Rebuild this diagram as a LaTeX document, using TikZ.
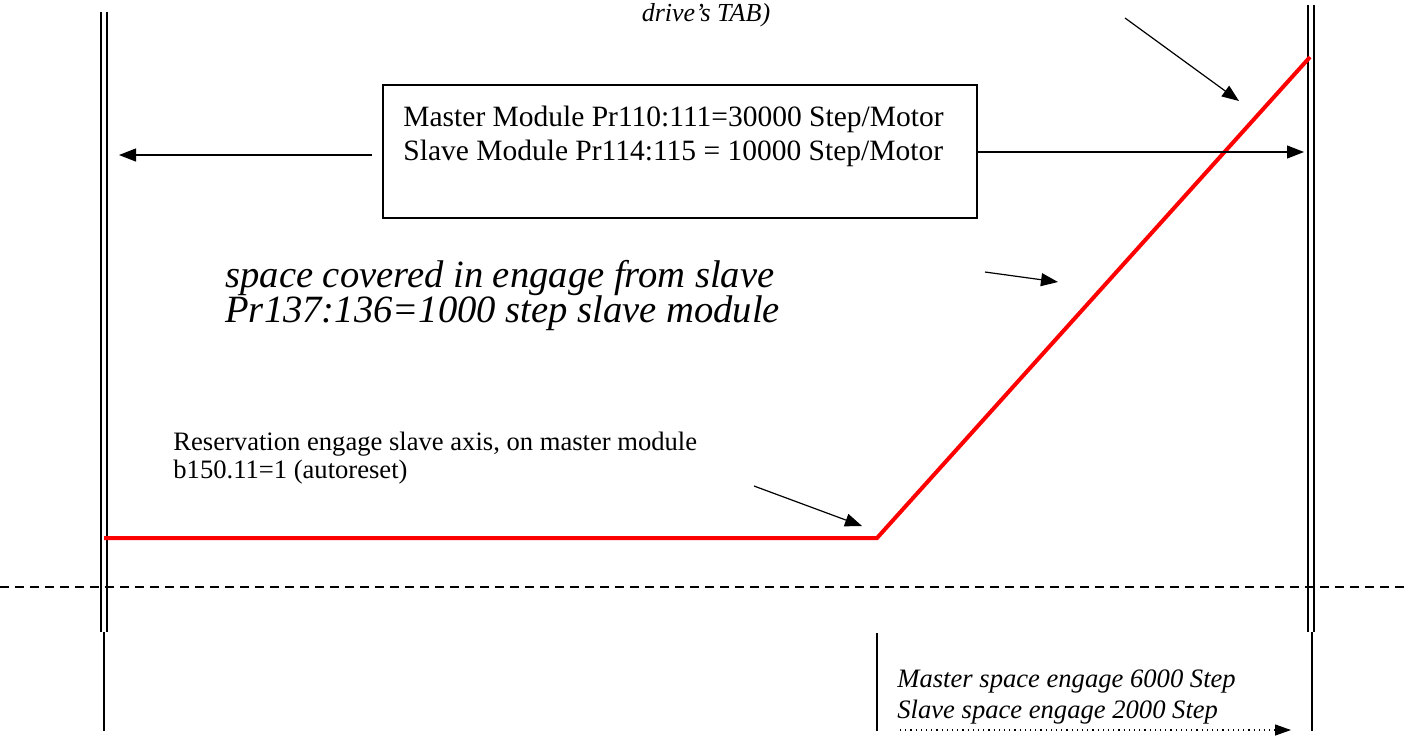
\documentclass[tikz,border=0pt]{standalone}
\usepackage{fontspec}
\setmainfont{Liberation Serif}
\usetikzlibrary{arrows.meta,positioning}

\tikzset{
  axisline/.style={line width=1pt},
  tailline/.style={line width=0.8pt},
  camline/.style={red, line width=2pt},
  pointer/.style={line width=0.6pt, -{Triangle[length=8.5pt,width=6.5pt]}},
  infobox/.style={draw, line width=0.6pt, minimum width=297pt, minimum height=66.5pt},
}

\begin{document}
\begin{tikzpicture}[x=0.5pt,y=-0.5pt]
    \useasboundingbox (0,0) rectangle (1410,736);

    % left axis (double line, then single below)
    \draw[axisline] (101,12) -- (101,632);
    \draw[axisline] (107,12) -- (107,632);
    \draw[tailline] (104,632) -- (104,731);

    % right axis
    \draw[axisline] (1308,5) -- (1308,632);
    \draw[axisline] (1314,5) -- (1314,632);
    \draw[tailline] (1312,632) -- (1312,731);

    % dashed reference line
    \draw[line width=0.6pt, dash pattern=on 4.5pt off 3pt] (0,587) -- (1410,587);

    % engage profile
    \coordinate (redstart) at (104,538);
    \coordinate (knee) at (877,538);
    \coordinate (redend) at (1310,57);
    \draw[camline] (redstart) -- (knee) -- (redend);

    % module box
    \node[infobox] (modbox) at (680,151.5) {};
    \node[anchor=west, align=left, font=\fontsize{14.75pt}{17pt}\selectfont, inner sep=0pt]
        (modtxt) at (403,136) {Master Module Pr110:111=30000 Step/Motor\\Slave Module Pr114:115 = 10000 Step/Motor};
    \coordinate (leftgo) at (372,155);
    \coordinate (lefthit) at (119,155);
    \coordinate (righthit) at (1304,152);
    \draw[pointer] (leftgo) -- (lefthit);
    \draw[pointer] (modbox.east |- righthit) -- (righthit);

    % top label
    \node[font=\itshape\fontsize{13pt}{15pt}\selectfont, inner sep=0pt] (tablbl) at (706,15) {drive’s TAB)};
    \coordinate (tabfrom) at (1125,18);
    \coordinate (tabto) at (1239,101);
    \draw[pointer] (tabfrom) -- (tabto);

    % space covered label
    \node[anchor=west, align=left, font={\itshape\fontsize{19.3pt}{17.5pt}\selectfont\lineskiplimit-20pt\relax}, inner sep=0pt]
        (slavelbl) at (225,296) {space covered in engage from slave\\Pr137:136=1000 step slave module};
    \coordinate (slvfrom) at (985,272);
    \coordinate (slvto) at (1058,282);
    \draw[pointer] (slvfrom) -- (slvto);

    % reservation label
    \node[anchor=west, align=left, font=\fontsize{13.3pt}{14pt}\selectfont, inner sep=0pt]
        (reslbl) at (173,458) {Reservation engage slave axis, on master module\\b150.11=1 (autoreset)};
    \coordinate (resfrom) at (754,486);
    \coordinate (resto) at (862,526);
    \draw[pointer] (resfrom) -- (resto);

    % master/slave engage span
    \draw[tailline] (877,633) -- (877,731);
    \node[anchor=west, align=left, font=\itshape\fontsize{13.3pt}{15.5pt}\selectfont, inner sep=0pt]
        (spanlbl) at (897,697) {Master space engage 6000 Step\\Slave space engage 2000 Step};
    \coordinate (spanfrom) at (900,730);
    \coordinate (spanto) at (1291,730);
    \draw[line width=0.6pt, dotted, -{Triangle[length=8pt,width=5.5pt]}] (spanfrom) -- (spanto);
\end{tikzpicture}
\end{document}
